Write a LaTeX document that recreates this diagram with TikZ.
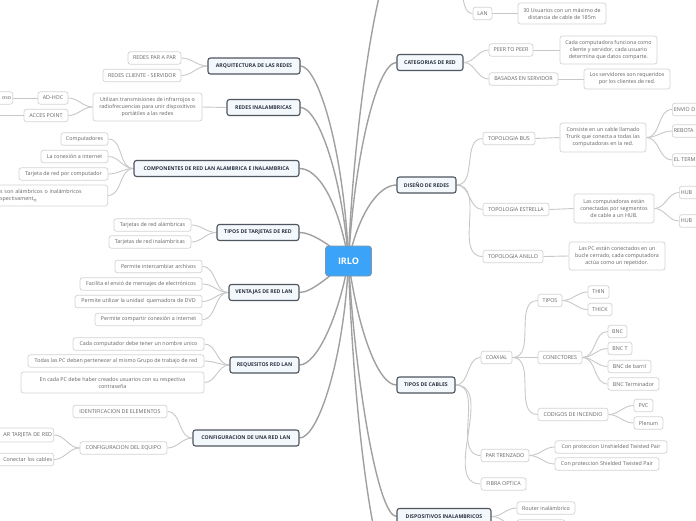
\documentclass[tikz,border=0pt]{standalone}
\usepackage{fontspec}
\setmainfont{Open Sans}
\usetikzlibrary{backgrounds}
\definecolor{rootblue}{RGB}{60,164,248}
\definecolor{rootedge}{RGB}{130,150,170}
\definecolor{topicfill}{RGB}{243,248,253}
\definecolor{topicedge}{RGB}{79,86,94}
\definecolor{topictext}{RGB}{43,53,64}
\definecolor{leafedge}{RGB}{211,211,211}
\definecolor{leaftext}{RGB}{100,100,100}
\definecolor{rootline}{RGB}{160,160,160}
\definecolor{branchline}{RGB}{200,200,200}
\begin{document}
\begin{tikzpicture}[x=1pt,y=-1pt,
  root/.style={fill=rootblue, draw=rootedge, line width=0.8pt, rounded corners=3pt, text=white,
    font=\fontsize{9}{10}\selectfont\bfseries, minimum width=46pt, minimum height=30pt, inner sep=0pt},
  topic/.style={fill=topicfill, draw=topicedge, line width=1.1pt, rounded corners=2.5pt, text=topictext,
    font=\fontsize{5.2}{6}\selectfont\bfseries, minimum height=16pt, inner sep=1.5pt},
  leaf/.style={fill=white, draw=leafedge, line width=0.7pt, rounded corners=2.5pt, text=leaftext,
    font=\fontsize{5.35}{7}\selectfont, minimum height=12.5pt, inner sep=1.5pt, align=center},
  rline/.style={draw=rootline, line width=1.4pt},
  bline/.style={draw=branchline, line width=0.9pt}]
\useasboundingbox (0,0) rectangle (696,520);
\clip (0,0) rectangle (696,520);

% root
\node[root] (irlo) at (348.5,261) {IRLO};

% ---------- left side ----------
\node[topic, minimum width=92pt] (arq) at (254,66) {ARQUITECTURA DE LAS REDES};
\node[leaf, minimum width=53pt] (pap) at (154.5,58) {REDES PAR A PAR};
\node[leaf, minimum width=78pt] (cs) at (142,75.5) {REDES CLIENTE - SERVIDOR};

\node[topic, minimum width=73pt] (rin) at (263.5,107.5) {REDES INALAMBRICAS};
\node[leaf, minimum width=109pt, minimum height=28pt] (util) at (147.5,107) {Utilizan transmisiones de infrarrojos o\\radiofrecuencias para unir dispositivos\\portátiles a las redes};
\node[leaf, minimum width=30pt] (adhoc) at (53,98) {AD-HOC};
\node[leaf, minimum width=44pt] (acces) at (46,115.5) {ACCES POINT};
\node[leaf, anchor=east, text width=37pt, align=right] (oso) at (13,98) {oso};
\coordinate (accesc) at (-20,115.5);

\node[topic, minimum width=165pt] (comp) at (216.5,168.5) {COMPONENTES DE RED LAN ALAMBRICA E INALAMBRICA};
\node[leaf, minimum width=47pt] (c1) at (84.5,139) {Computadores};
\node[leaf, minimum width=67pt] (c2) at (74.5,156.5) {La conexión a internet};
\node[leaf, minimum width=89pt] (c3) at (63.5,174) {Tarjeta de red por computador};
\node[leaf, anchor=east, text width=109pt, align=left, minimum height=21pt] (c4) at (108,195.5) {es son alámbricos o inalámbricos\\espectivament\textsubscript{ej}};

\node[topic, minimum width=82pt] (tt) at (258,232.5) {TIPOS DE TARJETAS DE RED};
\node[leaf, minimum width=77pt] (tt1) at (152.5,225) {Tarjetas de red alámbricas};
\node[leaf, minimum width=82pt] (tt2) at (150,242) {Tarjetas de red inalambricas};

\node[topic, minimum width=70pt] (ven) at (264,292.5) {VENTAJAS DE RED LAN};
\node[leaf, minimum width=87pt] (v1) at (158.5,266.5) {Permite intercambiar archivos};
\node[leaf, minimum width=122pt] (v2) at (141,284) {Facilita el envió de mensajes de electrónicos};
\node[leaf, minimum width=127pt] (v3) at (138.5,301.5) {Permite utilizar la unidad\ \ quemadora de DVD};
\node[leaf, minimum width=107pt] (v4) at (148.5,319.5) {Permite compartir conexión a internet};

\node[topic, minimum width=69pt] (req) at (264.5,365) {REQUESITOS RED LAN};
\node[leaf, minimum width=131pt] (r1) at (138.5,344) {Cada computador debe tener un nombre unico};
\node[leaf, minimum width=176pt] (r2) at (116,361) {Todas las PC deben pertenecer al mismo Grupo de trabajo de red};
\node[leaf, minimum width=183pt, minimum height=21pt] (r3) at (112.5,382.5) {En cada PC debe haber creados usuarios con su respectiva\\contraseña};

\node[topic, minimum width=106pt] (conf) at (246,438) {CONFIGURACION DE UNA RED LAN};
\node[leaf, minimum width=94pt] (cf1) at (120,411.5) {IDENTIFICACION DE ELEMENTOS};
\node[leaf, minimum width=87pt] (cf2) at (123.5,448) {CONFIGURACION DEL EQUIPO};
\node[leaf, anchor=east, text width=61pt, align=right, minimum height=14pt] (cf21) at (54,435) {AR TARJETA DE RED};
\node[leaf, anchor=east, text width=53pt, align=right] (cf22) at (54,459.5) {Conectar los cables};

% ---------- right side ----------
\coordinate (topc) at (397,-45);
\coordinate (botc) at (397,585);
\coordinate (lanp) at (462,-20);
\node[leaf, minimum width=19pt] (lan) at (482.5,13.5) {LAN};
\node[leaf, minimum width=88pt, minimum height=21pt] (land) at (562,13.5) {30 Usuarios con un máximo de\\distancia de cable de 185m};

\node[topic, minimum width=66pt] (cat) at (430,62.5) {CATEGORIAS DE RED};
\node[leaf, minimum width=44pt] (p2p) at (511,50) {PEER TO PEER};
\node[leaf, minimum width=97pt, minimum height=28pt] (p2pd) at (608.5,50) {Cada computadora funciona como\\cliente y servidor, cada usuario\\determina que datos comparte.};
\node[leaf, minimum width=69pt] (bs) at (523.5,79) {BASADAS EN SERVIDOR};
\node[leaf, minimum width=86pt, minimum height=20pt] (bsd) at (627,79) {Los servidores son requeridos\\por los clientes de red.};

\node[topic, minimum width=59pt] (dis) at (426.5,185) {DISEÑO DE REDES};
\node[leaf, minimum width=52pt] (bus) at (509,138.5) {TOPOLOGIA BUS};
\node[leaf, minimum width=86pt, minimum height=29pt] (busd) at (603,137.5) {Consiste en un cable llamado\\Trunk que conecta a todas las\\computadoras en la red.};
\node[leaf, anchor=west, text width=31pt, align=left] (b1) at (672,109.5) {ENVIO D};
\node[leaf, anchor=west, text width=31pt, align=left] (b2) at (672,131) {REBOTA};
\node[leaf, anchor=west, text width=31pt, align=left] (b3) at (672,160) {EL TERM};
\node[leaf, minimum width=66pt] (est) at (516,209.5) {TOPOLOGIA ESTRELLA};
\node[leaf, minimum width=80pt, minimum height=29pt] (estd) at (614,208.5) {Las computadoras están\\conectadas por segmentos\\de cable a un HUB.};
\node[leaf, anchor=west, text width=31pt, align=left] (h1) at (679,192.5) {HUB};
\node[leaf, anchor=west, text width=31pt, align=left] (h2) at (679,221) {HUB};
\node[leaf, minimum width=60pt] (ani) at (513,256.5) {TOPOLOGIA ANILLO};
\node[leaf, minimum width=96pt, minimum height=28pt] (anid) at (617,256) {Las PC están conectados en un\\bucle cerrado, cada computadora\\actúa como un repetidor.};

\node[topic, minimum width=58pt] (cab) at (426,385) {TIPOS DE CABLES};
\node[leaf, minimum width=31pt] (coax) at (496.5,357.5) {COAXIAL};
\node[leaf, minimum width=24pt] (tip) at (550,300.5) {TIPOS};
\node[leaf, minimum width=21pt] (thin) at (598.5,292) {THIN};
\node[leaf, minimum width=24pt] (thick) at (600,309.5) {THICK};
\node[leaf, minimum width=44pt] (con) at (560,357.5) {CONECTORES};
\node[leaf, minimum width=19pt] (bnc1) at (617.5,331.5) {BNC};
\node[leaf, minimum width=24pt] (bnc2) at (620,348.5) {BNC T};
\node[leaf, minimum width=43pt] (bnc3) at (629.5,366.5) {BNC de barril};
\node[leaf, minimum width=51pt] (bnc4) at (633.5,384) {BNC Terminador};
\node[leaf, minimum width=70pt] (cod) at (573,414.5) {CODIGOS DE INCENDIO};
\node[leaf, minimum width=19pt] (pvc) at (643.5,405.5) {PVC};
\node[leaf, minimum width=29pt] (plen) at (648.5,423) {Plenum};
\node[leaf, minimum width=48pt] (par) at (505,455.5) {PAR TRENZADO};
\node[leaf, minimum width=112pt] (utp) at (611,447) {Con proteccion Unshielded Twisted Pair};
\node[leaf, minimum width=104pt] (stp) at (607,464) {Con proteccion Shielded Twisted Pair};
\node[leaf, minimum width=45pt] (fib) at (503.5,484) {FIBRA OPTICA};

\node[topic, minimum width=94pt] (disp) at (444,516.5) {DISPOSITIVOS INALAMBRICOS};
\node[leaf, minimum width=58pt] (rout) at (546,508) {Router inalámbrico};
\node[leaf, minimum width=48pt] (d2) at (541,526) {};

% ---------- connectors ----------
\begin{scope}[on background layer]
\fill[white] (0,0) rectangle (696,520);
% root connectors
\draw[rline] (irlo.center) .. controls (344,150) and (318,66) .. (arq.east);
\draw[rline] (irlo.center) .. controls (342,175) and (318,107.5) .. (rin.east);
\draw[rline] (irlo.center) .. controls (338,200) and (318,168.5) .. (comp.east);
\draw[rline] (irlo.center) .. controls (330,245) and (312,232.5) .. (tt.east);
\draw[rline] (irlo.center) .. controls (330,275) and (312,292.5) .. (ven.east);
\draw[rline] (irlo.center) .. controls (338,320) and (316,365) .. (req.east);
\draw[rline] (irlo.center) .. controls (344,360) and (318,438) .. (conf.east);
\draw[rline] (irlo.center) .. controls (352,140) and (378,-45) .. (topc);
\draw[rline] (irlo.center) .. controls (355,150) and (378,62.5) .. (cat.west);
\draw[rline] (irlo.center) .. controls (358,215) and (378,185) .. (dis.west);
\draw[rline] (irlo.center) .. controls (358,330) and (378,385) .. (cab.west);
\draw[rline] (irlo.center) .. controls (355,380) and (378,516.5) .. (disp.west);
\draw[rline] (irlo.center) .. controls (352,390) and (372,585) .. (botc);
% left branches
\foreach \c in {pap,cs} \draw[bline] (arq.west) to[out=180,in=0] (\c.east);
\draw[bline] (rin.west) -- (util.east);
\foreach \c in {adhoc,acces} \draw[bline] (util.west) to[out=180,in=0] (\c.east);
\draw[bline] (adhoc.west) -- (oso.east);
\draw[bline] (acces.west) -- (accesc);
\foreach \c in {c1,c2,c3,c4} \draw[bline] (comp.west) to[out=180,in=0] (\c.east);
\foreach \c in {tt1,tt2} \draw[bline] (tt.west) to[out=180,in=0] (\c.east);
\foreach \c in {v1,v2,v3,v4} \draw[bline] (ven.west) to[out=180,in=0] (\c.east);
\foreach \c in {r1,r2,r3} \draw[bline] (req.west) to[out=180,in=0] (\c.east);
\foreach \c in {cf1,cf2} \draw[bline] (conf.west) to[out=180,in=0] (\c.east);
\foreach \c in {cf21,cf22} \draw[bline] (cf2.west) to[out=180,in=0] (\c.east);
% right branches
\draw[bline] (lanp) .. controls (462,5) and (466,13.5) .. (lan.west);
\draw[bline] (lan.east) -- (land.west);
\foreach \c in {p2p,bs} \draw[bline] (cat.east) to[out=0,in=180] (\c.west);
\draw[bline] (p2p.east) -- (p2pd.west);
\draw[bline] (bs.east) -- (bsd.west);
\foreach \c in {bus,est,ani} \draw[bline] (dis.east) to[out=0,in=180] (\c.west);
\draw[bline] (bus.east) -- (busd.west);
\draw[bline] (est.east) -- (estd.west);
\draw[bline] (ani.east) -- (anid.west);
\foreach \c in {b1,b2,b3} \draw[bline] (busd.east) to[out=0,in=180] (\c.west);
\foreach \c in {h1,h2} \draw[bline] (estd.east) to[out=0,in=180] (\c.west);
\foreach \c in {coax,par,fib} \draw[bline] (cab.east) to[out=0,in=180] (\c.west);
\foreach \c in {tip,con,cod} \draw[bline] (coax.east) to[out=0,in=180] (\c.west);
\foreach \c in {thin,thick} \draw[bline] (tip.east) to[out=0,in=180] (\c.west);
\foreach \c in {bnc1,bnc2,bnc3,bnc4} \draw[bline] (con.east) to[out=0,in=180] (\c.west);
\foreach \c in {pvc,plen} \draw[bline] (cod.east) to[out=0,in=180] (\c.west);
\foreach \c in {utp,stp} \draw[bline] (par.east) to[out=0,in=180] (\c.west);
\foreach \c in {rout,d2} \draw[bline] (disp.east) to[out=0,in=180] (\c.west);
\end{scope}
\end{tikzpicture}
\end{document}
